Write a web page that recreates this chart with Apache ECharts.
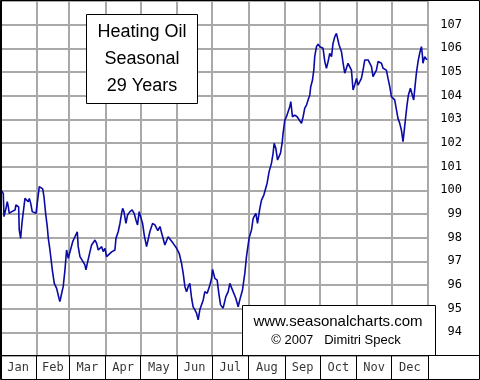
<!DOCTYPE html>
<html>
<head>
<meta charset="utf-8">
<script src="https://cdn.jsdelivr.net/npm/echarts@6/dist/echarts.min.js"></script>
<style>
html,body{margin:0;padding:0;background:#fff;}
#chart{width:480px;height:380px;}
</style>
</head>
<body>
<div id="chart"></div>
<script>
// Month boundaries (day of year where each month ends) and names
const monthEnds = [31, 59, 90, 120, 151, 181, 212, 243, 273, 304, 334, 365];
const monthNames = ['Jan','Feb','Mar','Apr','May','Jun','Jul','Aug','Sep','Oct','Nov','Dec'];
// Y ticks
const yMin = 93, yMax = 108;
const yLabelMin = 94, yLabelMax = 107;

// Seasonal pattern: day of year
const days = [
0.9,2.8,3.4,4.3,5.1,6.2,7.1,7.9,10.0,11.3,12.8,13.6,14.7,15.9,16.4,17.6,18.7,19.9,21.3,22.8,
24.1,25.0,26.2,27.5,29.2,30.7,31.8,32.6,33.5,34.9,36.4,37.5,38.9,40.3,41.2,42.6,44.6,46.3,48.3,50.3,
51.1,52.6,53.9,55.4,56.8,58.2,59.7,62.0,63.9,65.9,66.7,68.2,69.6,72.4,73.3,74.4,76.7,78.1,81.0,82.4,
83.8,85.2,86.7,88.0,89.5,90.9,92.3,95.2,96.6,98.0,98.9,100.8,102.3,103.7,104.6,105.7,107.4,108.8,110.8,112.7,
114.4,115.9,117.3,118.7,120.2,121.6,123.0,125.0,126.4,127.8,130.1,132.1,133.5,134.6,136.4,138.7,140.6,143.4,145.5,147.7,
150.6,152.8,154.8,156.2,157.7,159.1,160.5,161.9,163.4,164.7,166.2,167.6,169.0,170.4,171.9,173.3,174.7,176.7,179.0,180.4,
181.3,183.2,185.2,186.6,188.1,190.3,192.6,194.6,196.0,197.5,198.8,201.1,203.1,204.5,206.8,208.8,210.2,212.5,214.5,215.9,
218.2,219.6,221.6,223.0,225.0,226.7,227.8,229.5,231.5,232.9,233.8,235.2,236.7,238.0,239.2,240.6,241.4,242.9,244.3,245.7,
247.1,248.0,249.4,251.4,253.4,255.1,257.1,258.5,259.9,261.4,262.7,264.2,265.0,266.5,267.6,268.4,269.9,271.3,272.7,274.2,
275.5,277.0,278.4,279.8,281.2,282.7,284.0,285.5,286.9,287.8,289.2,291.2,292.6,294.0,295.5,296.8,298.3,299.7,301.1,302.5,
304.0,305.3,306.8,308.2,309.6,311.1,312.5,313.9,315.3,316.8,318.1,319.6,321.0,322.4,323.8,325.3,326.7,328.1,329.5,330.9,
332.4,333.8,335.2,336.6,338.1,339.4,340.9,342.3,343.7,345.1,346.0,347.1,348.3,350.0,351.7,352.8,353.9,355.1,356.5,357.9,
359.4,360.2,360.7,362.2,363.6,364.5
];
// Seasonal index values
const values = [
100.0,99.87,98.89,98.82,99.24,99.52,99.3,99.03,99.1,99.1,99.17,99.38,99.45,99.3,98.33,97.97,98.6,99.1,99.66,99.66,
99.52,99.66,99.45,99.1,99.1,99.03,99.1,99.8,100.16,100.12,100.06,99.73,99.03,98.47,97.97,97.48,96.64,96.07,95.86,95.44,
95.3,95.65,95.93,96.64,97.48,97.13,97.2,97.83,98.04,98.25,97.62,97.2,97.13,96.85,96.64,96.9,97.4,97.69,97.9,97.76,
97.48,97.55,97.62,97.41,97.55,97.2,97.25,97.4,97.48,97.48,97.97,98.25,98.6,99.03,99.24,99.1,98.6,98.96,99.1,99.17,
99.03,98.75,98.54,99.1,99.17,98.6,98.11,97.62,97.62,98.25,98.6,98.54,98.4,98.3,98.47,98.04,97.69,98.04,97.9,97.76,
97.55,97.34,96.92,96.5,95.93,95.72,95.93,96.07,95.44,95.08,94.95,94.81,94.53,94.95,95.01,95.37,95.72,95.65,96.0,96.28,
96.66,96.28,96.21,95.65,95.16,95.02,95.51,95.72,96.07,96.0,95.72,95.44,95.08,95.37,95.79,96.5,97.2,98.0,98.33,98.82,
99.03,98.6,99.24,99.59,99.8,99.87,100.3,100.79,101.14,101.57,101.99,101.78,101.28,101.21,101.57,101.99,102.41,102.97,103.11,103.18,
103.53,103.75,103.11,103.18,103.11,103.04,102.83,103.11,103.47,103.6,103.82,104.03,104.38,104.66,105.08,105.65,106.07,106.18,106.07,106.14,
106.0,105.44,105.16,105.44,105.79,105.65,106.21,106.49,106.63,106.56,106.14,105.86,105.37,104.95,104.87,105.37,105.44,105.08,104.24,104.45,
104.73,104.45,104.59,104.73,105.08,105.51,105.44,105.51,105.58,105.23,104.8,104.73,105.08,105.44,105.51,105.37,105.16,105.23,105.08,104.73,
104.38,103.96,104.03,103.82,103.4,103.04,102.83,102.55,102.06,102.69,103.11,103.6,104.03,104.31,104.24,103.82,104.38,104.95,105.44,105.79,
106.07,105.72,105.37,105.65,105.54,105.54
];

const titleLines = ['Heating Oil', 'Seasonal', '29 Years'];
const creditLines = ['www.seasonalcharts.com', '\u00A9 2007   Dimitri Speck'];

const chart = echarts.init(document.getElementById('chart'), null, {renderer: 'canvas'});

const monthStarts = [0].concat(monthEnds.slice(0, -1));
const labelData = monthNames.map((m, i) => ({value: [(monthStarts[i] + monthEnds[i]) / 2, 0.5], name: m}));

const option = {
  animation: false,
  backgroundColor: '#fff',
  grid: [
    {left: 0, width: 428, top: 1, height: 355, show: false},
    {left: 0, width: 428, top: 356, height: 23, show: false}
  ],
  xAxis: [
    {type: 'value', gridIndex: 0, min: 0, max: 365, axisLine: {show: false}, axisTick: {show: false}, axisLabel: {show: false}, splitLine: {show: false}},
    {type: 'value', gridIndex: 1, min: 0, max: 365, axisLine: {show: false}, axisTick: {show: false}, axisLabel: {show: false}, splitLine: {show: false}}
  ],
  yAxis: [
    {type: 'value', gridIndex: 0, position: 'right', min: yMin, max: yMax, interval: 1,
     axisLine: {show: false}, axisTick: {show: false},
     splitLine: {show: true, lineStyle: {color: '#a9a9a9', width: 2}},
     axisLabel: {
       margin: 34, align: 'right', color: '#000',
       fontFamily: 'DejaVu Sans Mono', fontSize: 12,
       showMinLabel: false, showMaxLabel: false,
       formatter: v => (v < yLabelMin || v > yLabelMax) ? '' : String(v)
     }},
    {type: 'value', gridIndex: 1, min: 0, max: 1, show: false}
  ],
  series: [
    {
      type: 'line', xAxisIndex: 0, yAxisIndex: 0, z: 1,
      data: days.map((d, i) => [d, values[i]]),
      showSymbol: false, silent: true,
      lineStyle: {opacity: 0},
      markLine: {
        silent: true, symbol: ['none', 'none'], label: {show: false},
        lineStyle: {color: '#a9a9a9', width: 2, type: 'solid'},
        data: monthEnds.map(d => ({xAxis: d}))
      }
    },
    {
      type: 'line', xAxisIndex: 0, yAxisIndex: 0, z: 5,
      data: days.map((d, i) => [d, values[i]]),
      showSymbol: false, silent: true,
      lineStyle: {color: '#0a0aa6', width: 1.6}
    },
    {
      type: 'scatter', xAxisIndex: 1, yAxisIndex: 1, z: 5,
      data: labelData, symbolSize: 0, silent: true,
      label: {show: true, position: 'inside', formatter: p => p.name, color: '#000', fontFamily: 'DejaVu Sans Mono', fontSize: 12},
      markLine: {
        silent: true, symbol: ['none', 'none'], label: {show: false},
        lineStyle: {color: '#000', width: 1, type: 'solid'},
        data: monthEnds.map(d => ({xAxis: d}))
      }
    }
  ],
  graphic: [
    {type: 'rect', z: 10, shape: {x: 86.5, y: 14.5, width: 111, height: 89}, style: {fill: '#fff', stroke: '#000', lineWidth: 1}},
    {type: 'text', z: 11, style: {text: titleLines[0], x: 142, y: 32, align: 'center', verticalAlign: 'middle', font: '18px "Liberation Sans", Arial, sans-serif', fill: '#000'}},
    {type: 'text', z: 11, style: {text: titleLines[1], x: 142, y: 59, align: 'center', verticalAlign: 'middle', font: '18px "Liberation Sans", Arial, sans-serif', fill: '#000'}},
    {type: 'text', z: 11, style: {text: titleLines[2], x: 142, y: 86, align: 'center', verticalAlign: 'middle', font: '18px "Liberation Sans", Arial, sans-serif', fill: '#000'}},
    {type: 'rect', z: 10, shape: {x: 242.5, y: 305.5, width: 193, height: 50}, style: {fill: '#fff', stroke: '#000', lineWidth: 1}},
    {type: 'text', z: 11, style: {text: creditLines[0], x: 338, y: 322, align: 'center', verticalAlign: 'middle', font: '15px "Liberation Sans", Arial, sans-serif', fill: '#000'}},
    {type: 'text', z: 11, style: {text: creditLines[1], x: 336, y: 340, align: 'center', verticalAlign: 'middle', font: '13px "Liberation Sans", Arial, sans-serif', fill: '#000'}},
    {type: 'line', z: 12, shape: {x1: 0, y1: 355.5, x2: 480, y2: 355.5}, style: {stroke: '#000', lineWidth: 1}},
    {type: 'rect', z: 12, shape: {x: 0.5, y: 0.5, width: 479, height: 379}, style: {fill: null, stroke: '#000', lineWidth: 1}},
    {type: 'line', z: 12, shape: {x1: 1.5, y1: 0, x2: 1.5, y2: 380}, style: {stroke: '#000', lineWidth: 1}}
  ]
};
chart.setOption(option);
</script>
</body>
</html>
